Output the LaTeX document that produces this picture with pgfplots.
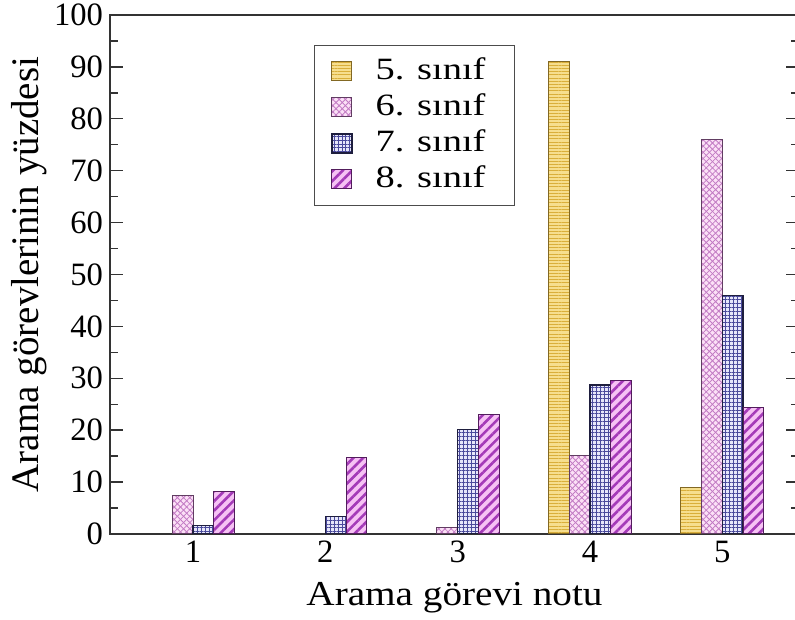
\documentclass[border=0pt]{standalone}
\usepackage{pgfplots}
\pgfplotsset{compat=1.18}
\usepackage{graphicx}
\usepackage{fontspec}
\setmainfont{Liberation Serif}
\usetikzlibrary{patterns.meta}
\definecolor{yfill}{HTML}{F6DE8E}
\definecolor{yline}{HTML}{D9AE3A}
\definecolor{pfill}{HTML}{FBE0F6}
\definecolor{pline}{HTML}{C27AC4}
\definecolor{bfill}{HTML}{E6E6FA}
\definecolor{bline}{HTML}{4A4A9C}
\definecolor{mfill}{HTML}{F6C2F4}
\definecolor{mline}{HTML}{A43AB8}
\newcommand{\sx}[1]{\scalebox{1.12}[1]{#1}}
\newcommand{\lx}[1]{\hspace*{9.5pt}\scalebox{1.24}[1]{#1}\hspace*{4pt}}
\begin{document}
\begin{tikzpicture}
\begin{axis}[
  scale only axis,
  width=344.5pt, height=259.5pt,
  xmin=0.372, xmax=5.58,
  ymin=0, ymax=100,
  ybar=0pt, bar width=10.4pt,
  xtick={1,2,3,4,5},
  major x tick style={draw=none},
  ytick={0,10,...,100},
  minor ytick={5,15,...,95},
  tick align=inside,
  major tick length=6.5pt,
  minor tick length=4pt,
  axis line style={line width=0.7pt, draw=black!80},
  tick style={line width=0.7pt, draw=black!80},
  /pgf/number format/assume math mode=true,
  tick label style={font=\fontsize{16.3}{17}\selectfont},
  xlabel={\sx{Arama görevi notu}},
  ylabel={Arama görevlerinin yüzdesi},
  xlabel style={font=\fontsize{17.5}{19}\selectfont, yshift=-3pt},
  ylabel style={font=\fontsize{19.5}{21}\selectfont, yshift=-3.5pt},
  legend style={at={(0.296,0.942)}, anchor=north west, draw=black!70,
    font=\fontsize{15.5}{16}\selectfont, row sep=0pt,
    inner xsep=8.5pt, inner ysep=4pt,
    nodes={text height=11.5pt, text depth=3.5pt, inner ysep=1.5pt}},
  legend image code/.code={\draw[#1] (0pt,-4.75pt) rectangle (10pt,4.75pt);},
  legend cell align=left,
]
\addplot[draw=yline!60!black, line width=0.5pt, fill=yfill,
  postaction={pattern={Lines[angle=0,distance=1.6pt,line width=0.5pt]}, pattern color=yline}]
  coordinates {(4,91) (5,9)};
\addplot[draw=pline!50!black, line width=0.5pt, fill=pfill,
  postaction={pattern={Lines[angle=45,distance=2.2pt,line width=0.4pt]}, pattern color=pline},
  postaction={pattern={Lines[angle=-45,distance=2.2pt,line width=0.4pt]}, pattern color=pline}]
  coordinates {(1,7.5) (3,1.2) (4,15.2) (5,76)};
\addplot[draw=bline!40!black, line width=0.6pt, fill=bfill,
  postaction={pattern={Lines[angle=0,distance=1.9pt,line width=0.35pt]}, pattern color=bline},
  postaction={pattern={Lines[angle=90,distance=1.9pt,line width=0.35pt]}, pattern color=bline}]
  coordinates {(1,1.7) (2,3.3) (3,20.2) (4,28.7) (5,46)};
\addplot[draw=mline!50!black, line width=0.5pt, fill=mfill,
  postaction={pattern={Lines[angle=45,distance=3.4pt,line width=1.3pt]}, pattern color=mline}]
  coordinates {(1,8.2) (2,14.8) (3,23) (4,29.5) (5,24.3)};
\legend{\lx{5. sınıf}, \lx{6. sınıf}, \lx{7. sınıf}, \lx{8. sınıf}}
\end{axis}
\pgfresetboundingbox
\useasboundingbox (-55pt,-42.5pt) rectangle (342.5pt,267pt);
\end{tikzpicture}
\end{document}
